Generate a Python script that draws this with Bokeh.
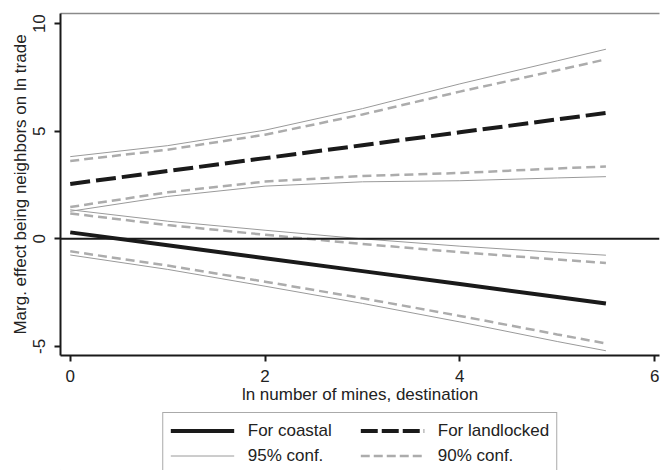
from bokeh.plotting import figure
from bokeh.layouts import column
from bokeh.models import (Range1d, FixedTicker, LinearAxis, Span, Legend, LegendItem)
from bokeh.embed import file_html
from bokeh.resources import INLINE

# ---- data ----
x_vals = [0, 1, 2, 3, 4, 5, 5.5]
coastal = [0.30, -0.30, -0.90, -1.50, -2.10, -2.70, -3.00]
coastal_hi95 = [1.35, 0.82, 0.40, 0.00, -0.34, -0.63, -0.76]
coastal_lo95 = [-0.75, -1.42, -2.20, -3.00, -3.86, -4.77, -5.20]
coastal_hi90 = [1.18, 0.64, 0.19, -0.24, -0.62, -0.96, -1.12]
coastal_lo90 = [-0.58, -1.24, -1.99, -2.76, -3.58, -4.44, -4.86]
landlocked = [2.55, 3.15, 3.75, 4.35, 4.95, 5.55, 5.85]
land_hi95 = [3.82, 4.33, 5.05, 6.05, 7.20, 8.27, 8.81]
land_lo95 = [1.28, 1.97, 2.45, 2.65, 2.70, 2.83, 2.89]
land_hi90 = [3.62, 4.14, 4.84, 5.78, 6.84, 7.83, 8.34]
land_lo90 = [1.48, 2.16, 2.66, 2.92, 3.06, 3.27, 3.36]

x_ticks = [0, 2, 4, 6]
y_ticks = [-5, 0, 5, 10]
x_title = "ln number of mines, destination"
y_title = "Marg. effect being neighbors on ln trade"
legend_labels = ["For coastal", "For landlocked", "95% conf.", "90% conf."]

FONT = "Liberation Sans"
BLACK = "#1a1a1a"
GRAY95 = "#9a9a9a"
GRAY90 = "#acacac"

p = figure(width=660, height=410, output_backend="svg", toolbar_location=None,
           x_range=Range1d(-0.10, 6.05), y_range=Range1d(-5.42, 10.47),
           min_border_left=60, min_border_right=1, min_border_top=13,
           min_border_bottom=55)
p.background_fill_color = "white"
p.border_fill_color = "white"
p.outline_line_color = None
p.xgrid.visible = False
p.ygrid.visible = False

# axes
for ax in (p.xaxis[0], p.yaxis[0]):
    ax.axis_line_color = BLACK
    ax.axis_line_width = 2
    ax.major_tick_line_color = BLACK
    ax.major_tick_line_width = 2
    ax.major_tick_out = 6
    ax.major_tick_in = 0
    ax.minor_tick_line_color = None
    ax.major_label_text_font = FONT
    ax.major_label_text_font_size = "17px"
    ax.major_label_text_color = "#222222"
    ax.axis_label_text_font = FONT
    ax.axis_label_text_font_size = "17px"
    ax.axis_label_text_font_style = "normal"
    ax.axis_label_text_color = "#222222"

p.xaxis.ticker = FixedTicker(ticks=x_ticks)
p.yaxis.ticker = FixedTicker(ticks=y_ticks)
p.yaxis.major_label_overrides = {t: str(t) for t in y_ticks}
p.xaxis.major_label_overrides = {t: str(t) for t in x_ticks}
p.yaxis.major_label_orientation = "vertical"
p.xaxis.axis_label = x_title
p.yaxis.axis_label = y_title
p.xaxis.major_label_standoff = 8
p.xaxis.axis_label_standoff = 0
p.yaxis.major_label_standoff = 9
p.yaxis.axis_label_standoff = 1

# top border line
top_axis = LinearAxis(ticker=FixedTicker(ticks=[]), axis_line_color="#8a8a8a",
                      axis_line_width=1.5, major_tick_line_color=None,
                      minor_tick_line_color=None, major_label_text_font_size="0px",
                      major_label_standoff=0)
p.add_layout(top_axis, "above")

# zero line
p.add_layout(Span(location=0, dimension="width", line_color=BLACK, line_width=2))

# confidence bands
r95 = p.line(x_vals, land_hi95, line_color=GRAY95, line_width=1)
p.line(x_vals, land_lo95, line_color=GRAY95, line_width=1)
p.line(x_vals, coastal_hi95, line_color=GRAY95, line_width=1)
p.line(x_vals, coastal_lo95, line_color=GRAY95, line_width=1)

r90 = p.line(x_vals, land_hi90, line_color=GRAY90, line_width=2.5, line_dash="9 5")
p.line(x_vals, land_lo90, line_color=GRAY90, line_width=2.5, line_dash="9 5")
p.line(x_vals, coastal_hi90, line_color=GRAY90, line_width=2.5, line_dash="9 5")
p.line(x_vals, coastal_lo90, line_color=GRAY90, line_width=2.5, line_dash="9 5")

# main effects
rc = p.line(x_vals, coastal, line_color=BLACK, line_width=4)
rl = p.line(x_vals, landlocked, line_color=BLACK, line_width=4, line_dash="20 6")

# ---- legend figure below ----
q = figure(width=660, height=60, output_backend="svg", toolbar_location=None,
           x_range=Range1d(0, 1), y_range=Range1d(0, 1),
           min_border_left=0, min_border_right=0, min_border_top=0,
           min_border_bottom=0)
q.axis.visible = False
q.xgrid.visible = False
q.ygrid.visible = False
q.outline_line_color = None
q.border_fill_color = "white"

qc = q.line([0, 0], [0, 0], line_color=BLACK, line_width=4)
ql = q.line([0, 0], [0, 0], line_color=BLACK, line_width=4, line_dash="17 4")
q95 = q.line([0, 0], [0, 0], line_color=GRAY95, line_width=1)
q90 = q.line([0, 0], [0, 0], line_color=GRAY90, line_width=2.5, line_dash="9 4")

legend = Legend(items=[LegendItem(label=legend_labels[0], renderers=[qc]),
                       LegendItem(label=legend_labels[1], renderers=[ql]),
                       LegendItem(label=legend_labels[2], renderers=[q95]),
                       LegendItem(label=legend_labels[3], renderers=[q90])],
                location="top_center", orientation="horizontal", ncols=2)
legend.label_text_font = FONT
legend.label_text_font_size = "17px"
legend.label_text_color = "#222222"
legend.glyph_width = 64
legend.glyph_height = 21
legend.label_height = 21
legend.label_width = 108
legend.label_standoff = 14
legend.spacing = 4
legend.padding = 7
legend.margin = 2
legend.border_line_color = "#555555"
legend.border_line_width = 1
legend.background_fill_color = "white"
legend.background_fill_alpha = 1
q.add_layout(legend, "center")

layout = column(p, q, spacing=0)
open("out.html", "w").write(file_html(layout, INLINE))
